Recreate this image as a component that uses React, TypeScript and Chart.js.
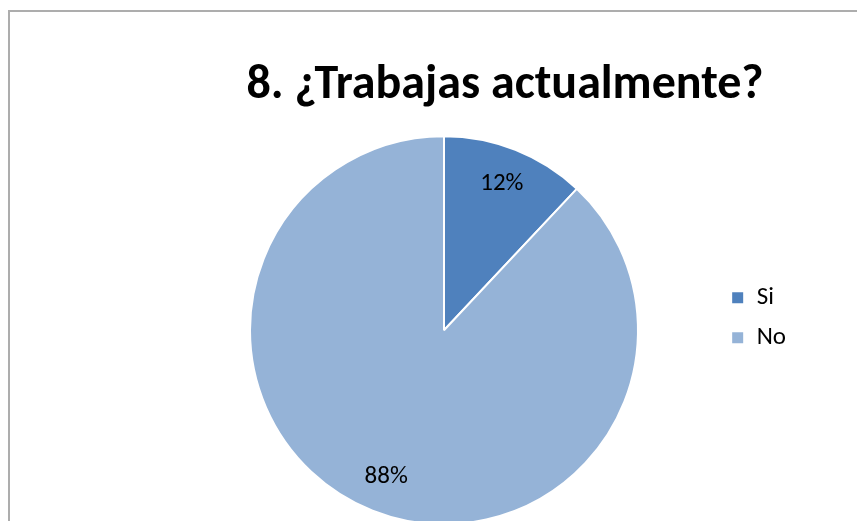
import { useEffect, useRef } from "react";
import { Chart, registerables } from "chart.js";

Chart.register(...registerables);

const TITLE = "8. ¿Trabajas actualmente?";
const categories = ["Si", "No"];
const values = [12, 88];
const colors = ["#4F81BD", "#95B3D7"];
const FONT = "Calibri, Carlito, Lato, sans-serif";

export default function App() {
  const ref = useRef<HTMLCanvasElement>(null);

  useEffect(() => {
    const labelPlugin = {
      id: "pctLabels",
      afterDatasetsDraw(chart: any) {
        const ctx = chart.ctx;
        const meta = chart.getDatasetMeta(0);
        const data = chart.data.datasets[0].data;
        ctx.save();
        ctx.font = `25px ${FONT}`;
        ctx.fillStyle = "#000";
        ctx.textAlign = "center";
        ctx.textBaseline = "middle";
        meta.data.forEach((arc: any, i: number) => {
          const { x, y, startAngle, endAngle, outerRadius } = arc.getProps(
            ["x", "y", "startAngle", "endAngle", "outerRadius"],
            true
          );
          const mid = (startAngle + endAngle) / 2;
          const r = outerRadius * 0.81;
          ctx.fillText(`${data[i]}%`, x + Math.cos(mid) * r, y + Math.sin(mid) * r);
        });
        ctx.restore();
      },
    };

    const chart = new Chart(ref.current as HTMLCanvasElement, {
      type: "pie",
      data: {
        labels: categories,
        datasets: [
          {
            data: values,
            backgroundColor: colors,
            borderColor: "#ffffff",
            borderWidth: 2,
            radius: 194,
            yAxisID: "none",
          } as any,
        ],
      },
      options: {
        animation: false,
        responsive: false,
        maintainAspectRatio: false,
        layout: { padding: { left: 204, right: 61, top: 61.5, bottom: 0 } },
        scales: {
          gap: {
            type: "linear",
            axis: "y",
            position: "right",
            display: true,
            min: 0,
            max: 1,
            grid: { display: false },
            ticks: { display: false },
            border: { display: false },
            afterFit: (s: any) => {
              const lw = s.chart.legend ? s.chart.legend.width : 0;
              s.width = Math.max(0, 122 - lw);
            },
          } as any,
        },
        plugins: {
          title: {
            display: true,
            text: TITLE,
            color: "#000000",
            font: { family: FONT, size: 48, weight: "bold", lineHeight: 0.5 },
            padding: { top: 0, bottom: 1 },
          },
          legend: {
            position: "right",
            fullSize: true,
            labels: {
              boxWidth: 13,
              boxHeight: 13,
              padding: 15,
              color: "#000000",
              font: { family: FONT, size: 25 },
            },
          },
          tooltip: { enabled: false },
        },
      } as any,
      plugins: [labelPlugin],
    });
    return () => chart.destroy();
  }, []);

  return (
    <div style={{ position: "fixed", inset: 0, overflow: "hidden", background: "#ffffff" }}>
      <div
        style={{
          position: "absolute",
          left: 8,
          top: 10,
          width: 2000,
          height: 2000,
          borderLeft: "2px solid #adadad",
          borderTop: "2px solid #adadad",
        }}
      />
      <canvas
        ref={ref}
        width={847}
        height={550}
        style={{ position: "absolute", left: 10, top: 12, width: 847, height: 550 }}
      />
    </div>
  );
}
